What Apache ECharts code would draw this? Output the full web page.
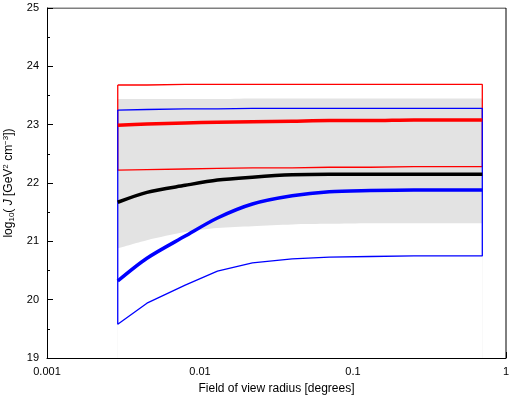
<!DOCTYPE html>
<html><head><meta charset="utf-8">
<script src="https://cdn.jsdelivr.net/npm/echarts@6/dist/echarts.min.js"></script>
<style>html,body{margin:0;padding:0;background:#fff}#c{width:513px;height:405px}</style>
</head><body><div id="c"></div>
<script>
const xs = [0.0029, 0.0045, 0.008, 0.013, 0.022, 0.04, 0.07, 0.13, 0.25, 0.7];
const moore = [22.99, 23.01, 23.03, 23.04, 23.05, 23.06, 23.07, 23.07, 23.08, 23.08];
const mooreHi = [23.68, 23.68, 23.69, 23.69, 23.69, 23.69, 23.69, 23.69, 23.69, 23.69];
const mooreLo = [22.22, 22.23, 22.24, 22.25, 22.26, 22.26, 22.27, 22.27, 22.28, 22.28];
const nfw = [21.67, 21.84, 21.96, 22.05, 22.10, 22.14, 22.15, 22.15, 22.15, 22.15];
const burkert = [20.32, 20.71, 21.09, 21.40, 21.64, 21.78, 21.85, 21.87, 21.88, 21.88];
const burkHi = [23.25, 23.26, 23.27, 23.27, 23.28, 23.28, 23.28, 23.28, 23.28, 23.28];
const burkLo = [19.58, 19.94, 20.25, 20.49, 20.63, 20.70, 20.73, 20.74, 20.75, 20.75];
const bandHi = [23.44, 23.44, 23.44, 23.44, 23.45, 23.45, 23.45, 23.45, 23.45, 23.45];
const bandLo = [20.88, 21.02, 21.16, 21.23, 21.26, 21.29, 21.30, 21.31, 21.31, 21.31];
const xTicks = ['0.001', '0.01', '0.1', '1'];

const pairs = a => xs.map((x, i) => [x, a[i]]);
const box = (hi, lo) => {
  const top = pairs(hi), bot = pairs(lo).reverse();
  return top.concat(bot, [top[0]]);
};
const line = (d, c, w, smooth) => ({type:'line', data:d, symbol:'none', smooth:smooth?0.3:false, lineStyle:{color:c, width:w}, silent:true, z:3});

const chart = echarts.init(document.getElementById('c'));
chart.setOption({
  animation:false,
  grid:{left:47, right:7, top:8, bottom:47, containLabel:false, outerBoundsMode:'none'},
  xAxis:{type:'log', min:0.001, max:1, logBase:10,
    name:'Field of view radius [degrees]', nameLocation:'middle', nameGap:25,
    nameTextStyle:{fontSize:12, color:'#000', fontFamily:'Liberation Sans'},
    axisLine:{show:true, lineStyle:{color:'#000'}},
    axisTick:{inside:true, length:6, lineStyle:{color:'#000'}},
    axisLabel:{color:'#000', fontSize:11, fontFamily:'Liberation Sans', formatter:v=>{const s=String(+v.toPrecision(3));return xTicks.includes(s)?s:'';}},
    splitLine:{show:false}},
  yAxis:{type:'value', min:19, max:25, interval:1,
    name:'{a|log}{s|10}{a|( }{i|J}{a| [GeV}{p|2}{a| cm}{p|−3}{a|])}', nameLocation:'middle', nameGap:28,
    nameTextStyle:{rich:{a:{fontSize:12,color:'#000',fontFamily:'Liberation Sans'},i:{fontSize:12,fontStyle:'italic',color:'#000',fontFamily:'Liberation Sans'},s:{fontSize:8,verticalAlign:'bottom',padding:[6,0,0,0],color:'#000'},p:{fontSize:8,verticalAlign:'top',padding:[0,0,6,0],color:'#000'}}},
    axisLine:{show:true, lineStyle:{color:'#000'}},
    axisTick:{inside:true, length:6, lineStyle:{color:'#000'}},
    minorTick:{show:true, splitNumber:2, length:3, lineStyle:{color:'#000'}},
    axisLabel:{color:'#000', fontSize:11, fontFamily:'Liberation Sans'},
    splitLine:{show:false}},
  series:[
    {type:'line', data:pairs(bandHi), symbol:'none', smooth:0.3, lineStyle:{width:0}, areaStyle:{color:'#e3e3e3', opacity:1, origin:'start'}, silent:true, z:1},
    {type:'line', data:pairs(bandLo), symbol:'none', smooth:0.3, lineStyle:{width:0}, areaStyle:{color:'#ffffff', opacity:1, origin:'start'}, silent:true, z:2},
    line(box(mooreHi, mooreLo), '#ff0000', 1.3),
    line(box(burkHi, burkLo), '#0000ff', 1.3),
    line(pairs(moore), '#ff0000', 3.5, true),
    line(pairs(nfw), '#000000', 3.5, true),
    line(pairs(burkert), '#0000ff', 3.5, true),
    {type:'line', data:[[1,25],[1,19]], symbol:'none', lineStyle:{color:'#000',width:1}, silent:true},
    {type:'line', data:[[0.001,25],[1,25]], symbol:'none', lineStyle:{color:'#000',width:1}, silent:true}
  ],
  graphic:[
    {type:'text', left:451, top:124, style:{text:'Moore', fill:'#ff0000', fontSize:9, fontFamily:'Liberation Sans'}},
    {type:'text', left:455, top:178, style:{text:'NFW', fill:'#000', fontSize:9, fontFamily:'Liberation Sans'}},
    {type:'text', left:446, top:195, style:{text:'Burkert', fill:'#0000ff', fontSize:9, fontFamily:'Liberation Sans'}}
  ]
});
</script></body></html>
